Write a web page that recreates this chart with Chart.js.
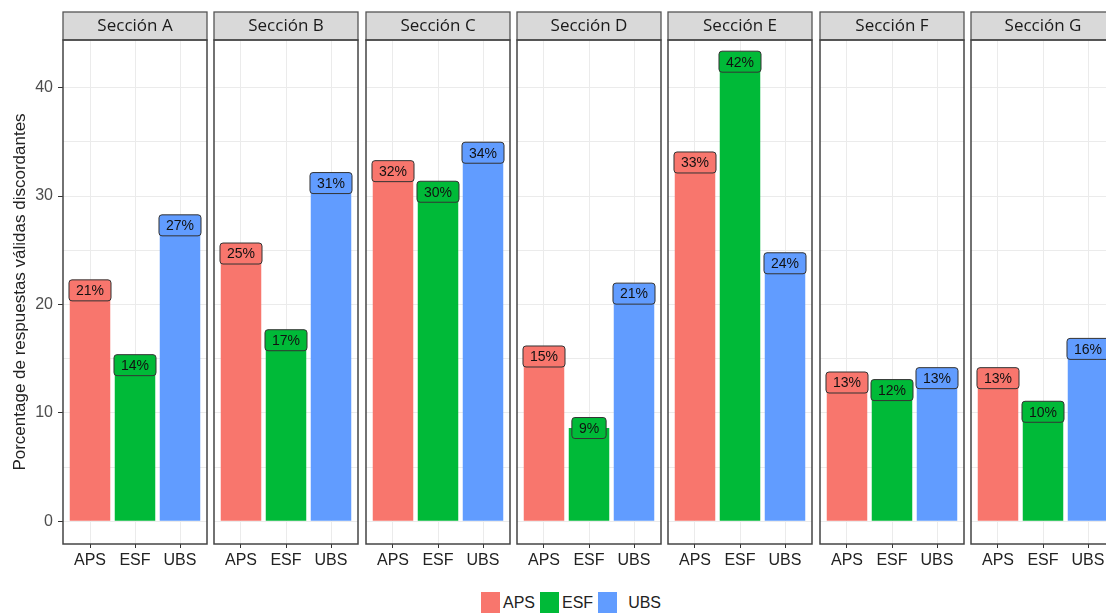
<!DOCTYPE html>
<html>
<head>
<meta charset="utf-8">
<script src="https://cdn.jsdelivr.net/npm/chart.js@4.4.1/dist/chart.umd.min.js"></script>
<style>
html, body { margin: 0; padding: 0; background: #fff; overflow: hidden; }
#wrap { position: relative; width: 1106px; height: 613px; overflow: hidden; }
#wrap canvas { position: absolute; top: 0; }
#legend { position: absolute; top: 592px; left: 481px; display: flex; align-items: center;
  font: 16px 'Liberation Sans', Arial, sans-serif; color: #222; }
#legend .sw { width: 19px; height: 21px; margin-right: 3px; }
#legend .lb { margin-right: 5px; }
</style>
</head>
<body>
<div id="wrap"><div id="legend"></div></div>
<script>
// facets and values (percentages)
const sections = ['Sección A', 'Sección B', 'Sección C', 'Sección D', 'Sección E', 'Sección F', 'Sección G'];
const groups = ['APS', 'ESF', 'UBS'];
const apsValues = [21.3, 24.7, 32.3, 15.2, 33.1, 12.8, 13.2];
const esfValues = [14.4, 16.7, 30.4, 8.6, 42.4, 12.1, 10.1];
const ubsValues = [27.3, 31.2, 34.0, 21.0, 23.8, 13.2, 15.9];
const yTickLabels = [0, 10, 20, 30, 40];

const colors = ['#F8766D', '#00BA38', '#619CFF'];
const FONT = "'Liberation Sans', Arial, sans-serif";

Chart.defaults.font.family = FONT;
Chart.defaults.animation = false;

const facetPlugin = {
    id: 'facet',
    afterDraw(chart, args, opts) {
        const ctx = chart.ctx;
        const a = chart.chartArea;
        ctx.save();
        // strip
        ctx.fillStyle = '#d9d9d9';
        ctx.fillRect(a.left, 12, a.right - a.left, a.top - 12);
        ctx.strokeStyle = '#555';
        ctx.lineWidth = 1.3;
        ctx.strokeRect(a.left, 12, a.right - a.left, a.top - 12);
        ctx.fillStyle = '#1a1a1a';
        ctx.font = "17px 'Open Sans', sans-serif";
        ctx.textAlign = 'center';
        ctx.textBaseline = 'middle';
        ctx.fillText(opts.title, (a.left + a.right) / 2, (12 + a.top) / 2);
        // panel border
        ctx.strokeStyle = '#444';
        ctx.lineWidth = 1.5;
        ctx.strokeRect(a.left, a.top, a.right - a.left, a.bottom - a.top);
        ctx.restore();
    }
};

const labelPlugin = {
    id: 'barLabels',
    afterDatasetsDraw(chart) {
        const ctx = chart.ctx;
        const ds = chart.data.datasets[0];
        ctx.save();
        ctx.font = '14px ' + FONT;
        ctx.textAlign = 'center';
        ctx.textBaseline = 'middle';
        chart.getDatasetMeta(0).data.forEach((bar, j) => {
            const txt = Math.round(ds.data[j].y) + '%';
            const w = ctx.measureText(txt).width + 14, h = 21;
            ctx.beginPath();
            ctx.roundRect(bar.x - w / 2, bar.y - h / 2, w, h, 3);
            ctx.fillStyle = ds.backgroundColor[j];
            ctx.fill();
            ctx.strokeStyle = '#333';
            ctx.lineWidth = 1;
            ctx.stroke();
            ctx.fillStyle = '#111';
            ctx.fillText(txt, bar.x, bar.y + 1);
        });
        ctx.restore();
    }
};

function makePanel(i) {
    const first = i === 0;
    const left = Math.round(63 + i * 151.3);
    const canvas = document.createElement('canvas');
    canvas.width = first ? left + 144 + 3 : 150;
    canvas.height = 574;
    canvas.style.left = (first ? 0 : left - 3) + 'px';
    document.getElementById('wrap').appendChild(canvas);

    const vals = [apsValues[i], esfValues[i], ubsValues[i]];

    new Chart(canvas, {
        type: 'bar',
        data: {
            datasets: [{
                data: vals.map((v, j) => ({x: j + 1, y: v})),
                backgroundColor: colors,
                barPercentage: 0.9,
                categoryPercentage: 1
            }]
        },
        options: {
            responsive: false,
            layout: {padding: {top: 40, left: first ? 0 : 3, right: 3, bottom: 0}},
            plugins: {
                legend: {display: false},
                tooltip: {enabled: false},
                facet: {title: sections[i]}
            },
            scales: {
                x: {
                    type: 'linear',
                    min: 0.4,
                    max: 3.6,
                    offset: false,
                    afterBuildTicks: (s) => { s.ticks = groups.map((g, j) => ({value: j + 1})); },
                    afterFit: (s) => { s.height = 30; },
                    border: {display: false},
                    grid: {color: '#ebebeb', tickColor: '#333', tickLength: 4, offset: false},
                    ticks: {
                        callback: (v) => groups[v - 1],
                        color: '#222',
                        font: {size: 16},
                        padding: 3,
                        maxRotation: 0,
                        autoSkip: false
                    }
                },
                y: {
                    min: -2.1,
                    max: 44.4,
                    afterBuildTicks: (s) => {
                        s.ticks = [];
                        for (let v = 0; v <= 40; v += 5) s.ticks.push({value: v});
                    },
                    afterFit: (s) => { s.width = first ? 63 : 0; },
                    border: {display: false},
                    grid: {
                        color: '#ebebeb',
                        drawTicks: first,
                        tickLength: 5,
                        tickColor: (c) => yTickLabels.includes(c.tick.value) ? '#333' : 'rgba(0,0,0,0)'
                    },
                    ticks: {
                        display: first,
                        callback: (v) => yTickLabels.includes(v) ? String(v) : '',
                        color: '#4d4d4d',
                        font: {size: 16},
                        padding: 5
                    },
                    title: {
                        display: first,
                        text: 'Porcentage de respuestas válidas discordantes',
                        color: '#222',
                        font: {size: 17},
                        padding: {top: 10, bottom: 0}
                    }
                }
            }
        },
        plugins: [labelPlugin, facetPlugin]
    });
}

sections.forEach((s, i) => makePanel(i));

// legend
const legend = document.getElementById('legend');
groups.forEach((g, j) => {
    const sw = document.createElement('span');
    sw.className = 'sw';
    sw.style.background = colors[j];
    const lb = document.createElement('span');
    lb.className = 'lb';
    lb.textContent = g;
    if (j === 2) sw.style.marginRight = '11px';
    legend.appendChild(sw);
    legend.appendChild(lb);
});
</script>
</body>
</html>
